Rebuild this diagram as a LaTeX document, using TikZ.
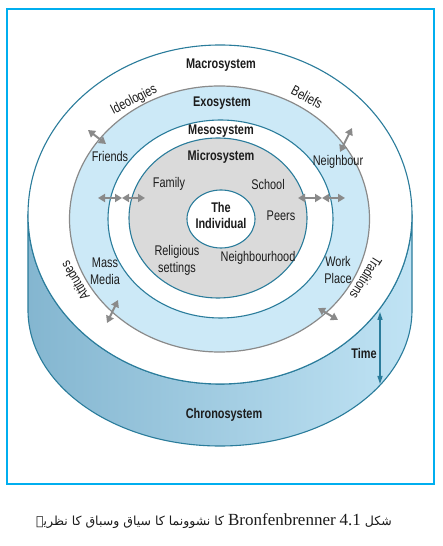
\documentclass[tikz,border=0pt]{standalone}
\usepackage{fontspec}
\usetikzlibrary{arrows.meta}
\TeXXeTstate=1
\newfontfamily\lab[FakeStretch=0.78]{Liberation Sans}
\newfontfamily\arabicfont[Script=Arabic]{DejaVu Sans}
\newfontfamily\capserif{Liberation Serif}
\definecolor{framecyan}{RGB}{0,174,239}
\definecolor{tealline}{RGB}{42,124,155}
\definecolor{exoblue}{RGB}{204,233,247}
\definecolor{microgrey}{RGB}{218,218,218}
\definecolor{chronoL}{RGB}{132,182,208}
\definecolor{chronoR}{RGB}{192,227,244}
\definecolor{arrowgrey}{RGB}{138,138,138}
\definecolor{txt}{RGB}{28,28,28}
\begin{document}
\begin{tikzpicture}[x=1pt,y=1pt,
  ring/.style={draw=tealline,line width=1.1pt},
  lbl/.style={inner sep=0pt,text=txt,font=\lab\fontsize{14}{16}\selectfont,align=center},
  blbl/.style={lbl,font=\lab\bfseries\fontsize{14}{16}\selectfont},
  link/.style={draw=arrowgrey,line width=2pt,{Triangle[length=7pt,width=8pt]}-{Triangle[length=7pt,width=8pt]}},
  timearrow/.style={draw=tealline,line width=1.3pt,{Triangle[length=8pt,width=5pt]}-{Triangle[length=8pt,width=5pt]}}
]
\useasboundingbox (0,0) rectangle (442,546);
\fill[white] (0,0) rectangle (442,546);
% frame
\draw[framecyan,line width=2.4pt] (7,62) rectangle (434,537);
% chronosystem side
\path[ring,left color=chronoL,right color=chronoR]
  (28,331.5) -- (28,236) arc[start angle=180,end angle=360,x radius=192pt,y radius=136pt]
  -- (412,331.5) arc[start angle=0,end angle=-180,x radius=192pt,y radius=169.5pt] -- cycle;
% rings
\draw[ring,fill=white] (220,331.5) ellipse [x radius=192pt,y radius=169.5pt];
\draw[draw=arrowgrey,line width=1.2pt,fill=exoblue] (219.5,327) ellipse [x radius=150pt,y radius=133pt];
\draw[ring,fill=white] (220.5,327) ellipse [x radius=112.5pt,y radius=99pt];
\draw[ring,fill=microgrey] (218,328) ellipse [x radius=89pt,y radius=80pt];
\draw[ring,fill=white] (221,327) ellipse [x radius=34pt,y radius=29pt];
% labels
\node[blbl] (macro) at (221,481) {Macrosystem};
\node[blbl] (exo) at (222,443) {Exosystem};
\node[blbl] (meso) at (221,415) {Mesosystem};
\node[blbl] (micro) at (221,389) {Microsystem};
\node[blbl] (indiv) at (221,330.5) {The\\[1pt]Individual};
\node[lbl,rotate=27] (ideol) at (134,446) {Ideologies};
\node[lbl,rotate=-28] (belief) at (307,449) {Beliefs};
\node[lbl,rotate=121] (attit) at (75,265) {Attitudes};
\node[lbl,rotate=-122] (tradit) at (366,268) {Traditions};
\node[lbl] (friends) at (110,389) {Friends};
\node[lbl] (neighbour) at (338,384) {Neighbour};
\node[lbl] (family) at (169,362) {Family};
\node[lbl] (school) at (268,361) {School};
\node[lbl] (peers) at (281,330) {Peers};
\node[lbl] (relig) at (177,285.5) {Religious\\[1pt]settings};
\node[lbl] (nbhood) at (258,288) {Neighbourhood};
\node[lbl] (mass) at (105,274.5) {Mass\\[1pt]Media};
\node[lbl] (work) at (338,276) {Work\\[1pt]Place};
\node[blbl] (time) at (364,193) {Time};
\node[blbl] (chrono) at (224,131) {Chronosystem};
% grey links
\coordinate (fa) at (88,416); \coordinate (fb) at (106,402);
\coordinate (na) at (340,394); \coordinate (nb) at (352,418);
\coordinate (l1) at (98,348); \coordinate (l2) at (122,348); \coordinate (l3) at (145,348);
\coordinate (r1) at (298,348); \coordinate (r2) at (322,348); \coordinate (r3) at (345,348);
\coordinate (ma) at (107,223); \coordinate (mb) at (118,246);
\coordinate (wa) at (318,238); \coordinate (wb) at (338,226);
\draw[link] (fa) -- (fb);
\draw[link] (na) -- (nb);
\draw[link] (l1) -- (l2);
\draw[link] (l2) -- (l3);
\draw[link] (r1) -- (r2);
\draw[link] (r2) -- (r3);
\draw[link] (ma) -- (mb);
\draw[link] (wa) -- (wb);
% time arrow
\coordinate (ttop) at (380,234); \coordinate (tbot) at (380,162);
\draw[timearrow] (ttop) -- (tbot);
% caption
\node[inner sep=0pt,text=txt] (caption) at (214,25) {\arabicfont\fontsize{12.5}{16}\selectfont\beginR شکل \beginL{\capserif\fontsize{17}{18}\selectfont 4.1}\endL{} \beginL{\capserif\fontsize{17}{18}\selectfont Bronfenbrenner}\endL{} کا نشوونما کا سیاق وسباق کا نظریہ\endR};
\end{tikzpicture}
\end{document}
